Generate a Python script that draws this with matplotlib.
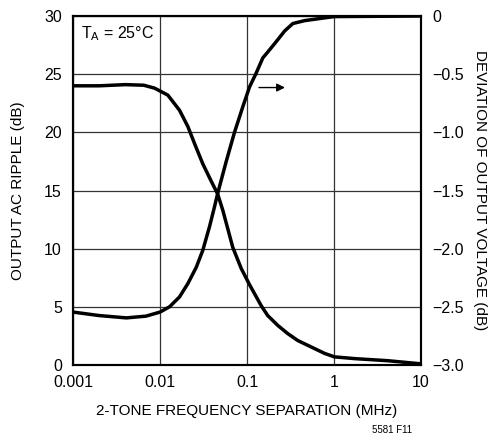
import numpy as np
import matplotlib
matplotlib.use('Agg')
import matplotlib.pyplot as plt

plt.rcParams['font.family'] = ['Liberation Sans', 'DejaVu Sans']
plt.rcParams['mathtext.default'] = 'regular'

# ---- data ----
# output AC ripple (left axis, dB)
ripple_freq = [0.001, 0.002, 0.004, 0.0065, 0.00865, 0.0123, 0.01675, 0.0209, 0.0249,
               0.031, 0.0388, 0.046, 0.0527, 0.0687, 0.0858, 0.107, 0.1456, 0.173,
               0.226, 0.294, 0.384, 0.547, 0.778, 1.01, 1.72, 4.15, 10]
ripple_db = [24.0, 24.0, 24.1, 24.05, 23.8, 23.2, 21.9, 20.5, 19.05,
             17.3, 15.8, 14.7, 13.3, 10.1, 8.3, 6.9, 5.1, 4.25,
             3.4, 2.7, 2.1, 1.55, 1.0, 0.7, 0.55, 0.37, 0.1]

# deviation of output voltage (right axis, dB)
dev_freq = [0.001, 0.002, 0.0041, 0.0069, 0.01, 0.01285, 0.01675, 0.0209, 0.0261,
            0.031, 0.0371, 0.0423, 0.0462, 0.0577, 0.0718, 0.0895, 0.1069, 0.1276,
            0.152, 0.173, 0.217, 0.270, 0.336, 0.458, 0.713, 1.01, 10]
dev_db = [-2.545, -2.575, -2.595, -2.58, -2.545, -2.50, -2.415, -2.30, -2.16,
          -2.015, -1.81, -1.64, -1.52, -1.25, -1.0, -0.78, -0.61, -0.49,
          -0.36, -0.31, -0.22, -0.13, -0.065, -0.04, -0.02, -0.005, 0.0]

x_ticks = [0.001, 0.01, 0.1, 1, 10]
x_labels = ['0.001', '0.01', '0.1', '1', '10']
left_ticks = [0, 5, 10, 15, 20, 25, 30]
right_ticks = [-3.0, -2.5, -2.0, -1.5, -1.0, -0.5, 0]
right_labels = ['\u22123.0', '\u22122.5', '\u22122.0', '\u22121.5', '\u22121.0', '\u22120.5', '0']

# --------------------------------------------------------------------
fig = plt.figure(figsize=(4.95, 4.42), dpi=100)
ax = fig.add_axes([0.1475, 0.1742, 0.703, 0.7896])

ax.set_xscale('log')
ax.set_xlim(0.001, 10)
ax.set_ylim(0, 30)
ax.set_xticks(x_ticks)
ax.set_xticklabels(x_labels)
ax.set_yticks(left_ticks)
ax.minorticks_off()
ax.tick_params(axis='y', length=0, labelsize=11.5, pad=8)
ax.tick_params(axis='x', length=0, labelsize=11.5, pad=7)
ax.grid(True, color='#333333', linewidth=0.9)
for s in ax.spines.values():
    s.set_linewidth(1.5)

ax.plot(ripple_freq, ripple_db, color='black', linewidth=2.5,
        solid_joinstyle='round')

ax2 = ax.twinx()
ax2.set_ylim(-3, 0)
ax2.set_yticks(right_ticks)
ax2.set_yticklabels(right_labels)
ax2.tick_params(length=0, labelsize=11.5, pad=8)
ax2.plot(dev_freq, dev_db, color='black', linewidth=2.5,
         solid_joinstyle='round')
for s in ax2.spines.values():
    s.set_linewidth(1.5)

ax.set_xlabel('2-TONE FREQUENCY SEPARATION (MHz)', fontsize=11, va='center')
ax.xaxis.set_label_coords(0.5, -0.132)
ax.set_ylabel('OUTPUT AC RIPPLE (dB)', fontsize=11, va='center')
ax.yaxis.set_label_coords(-0.158, 0.5)
ax2.set_ylabel('DEVIATION OF OUTPUT VOLTAGE (dB)', fontsize=11, rotation=-90,
               va='center')
ax2.yaxis.set_label_coords(1.1695, 0.5)

ax.text(0.00125, 28.1, r'$T_A$ = 25°C', fontsize=11.5, va='baseline', ha='left')
ax.annotate('', xy=(0.294, 23.85), xytext=(0.1276, 23.85),
            arrowprops=dict(arrowstyle='-|>', color='black', lw=1,
                            mutation_scale=12))

fig.text(0.792, 0.016, '5581 F11', fontsize=7, ha='center', va='bottom')

fig.savefig('out.png', dpi=100)
